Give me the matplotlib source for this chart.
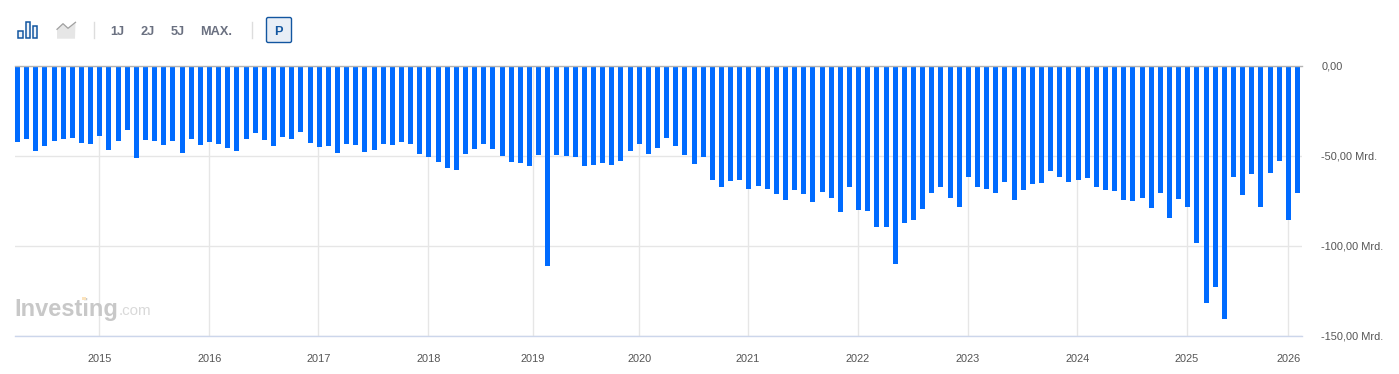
import matplotlib
matplotlib.use("Agg")
import matplotlib.pyplot as plt
from matplotlib.patches import Rectangle, Polygon, FancyBboxPatch
from matplotlib.lines import Line2D
from matplotlib.transforms import ScaledTranslation

W, H = 1399, 374
plt.rcParams['font.family'] = ['Liberation Sans', 'DejaVu Sans']

values = [
    -41.9, -40.2, -46.9, -44.1, -41.3, -40.2, -39.6, -42.4, -43.0, -38.5, -46.3, -41.3,
    -35.2, -50.7, -40.7, -41.3, -43.5, -41.3, -48.0, -40.2, -43.5, -41.9, -43.0, -45.2,
    -46.9, -40.2, -36.9, -40.7, -44.1, -39.1, -40.2, -36.4, -42.6, -44.8, -44.3, -48.1,
    -43.1, -43.7, -47.6, -46.5, -43.1, -43.7, -42.0, -43.1, -48.7, -50.4, -53.1, -56.5,
    -57.6, -48.7, -45.9, -43.1, -45.9, -49.8, -53.1, -53.7, -55.4, -49.3, -110.9, -49.3,
    -49.8, -50.4, -55.4, -54.8, -53.7, -54.8, -52.6, -47.0, -43.1, -48.7, -45.4, -39.8,
    -44.3, -49.3, -54.3, -50.4, -63.1, -67.0, -63.7, -63.1, -68.1, -66.5, -68.1, -70.9,
    -74.3, -68.7, -70.9, -75.4, -69.8, -73.1, -80.9, -67.0, -79.8, -80.4, -89.3, -89.3,
    -109.8, -87.0, -85.4, -79.3, -70.4, -67.0, -73.1, -78.1, -61.5, -67.0, -68.1, -70.4,
    -64.3, -74.3, -68.7, -65.4, -64.8, -58.1, -61.5, -64.3, -63.1, -62.0, -67.0, -68.7,
    -69.3, -74.3, -74.8, -73.1, -78.7, -70.4, -84.3, -73.7, -78.1, -98.1, -131.5, -122.6,
    -140.4, -61.5, -71.5, -59.8, -78.0, -59.3, -52.6, -85.6, -70.4,
]
year_labels = ['2015', '2016', '2017', '2018', '2019', '2020', '2021', '2022', '2023', '2024', '2025', '2026']
year_positions = [8.95, 20.97, 32.92, 44.95, 56.4, 68.0, 79.9, 91.9, 103.96, 115.9, 127.9, 139.0]
y_ticks = [0, -50, -100, -150]
y_labels = ['0,00', '-50,00 Mrd.', '-100,00 Mrd.', '-150,00 Mrd.']
range_buttons = ['1J', '2J', '5J', 'MAX.']

fig = plt.figure(figsize=(W / 100, H / 100), dpi=100, facecolor='white')
L, R, T, B = 15, 1302, 66.3, 336.3
ax = fig.add_axes([L / W, 1 - B / H, (R - L) / W, (B - T) / H])
step = (1297.5 - 17.5) / 140
ax.set_xlim((L - 17.5) / step, (R - 17.5) / step)
ax.set_ylim(-150, 0)
for s in ('top', 'left', 'right'):
    ax.spines[s].set_visible(False)
ax.spines['bottom'].set_color('#ccd6eb')
ax.spines['bottom'].set_linewidth(1)
ax.set_axisbelow(True)
ax.grid(True, color='#e6e6e6', linewidth=1)
ax.bar(range(len(values)), values, width=5.0 / step, color='#006BFF', linewidth=0, zorder=3)
ax.axhline(0, color='#b4b4b4', linewidth=1, zorder=4, clip_on=False)
ax.set_xticks(year_positions, year_labels)
ax.set_yticks(y_ticks, y_labels)
ax.yaxis.tick_right()
ax.tick_params(axis='x', length=0, pad=13, labelsize=7.9, labelcolor='#555555')
ax.tick_params(axis='y', length=0, pad=14, labelsize=7.9, labelcolor='#555555')
shift_up = ScaledTranslation(0, 0.72 / 72, fig.dpi_scale_trans)
for lab in ax.get_yticklabels():
    lab.set_ha('left')
    lab.set_transform(lab.get_transform() + shift_up)


def px(x, y):
    return x / W, 1 - y / H


def add_rect(x, y, w, h, **kw):
    fig.add_artist(Rectangle(px(x, y + h), w / W, h / H, transform=fig.transFigure, **kw))


def ftext(x, y, s, **kw):
    fig.text(*px(x, y), s, va='center', **kw)


# toolbar
blue = '#1256A0'
for x, y, h in [(18, 30.5, 7.5), (25.5, 22.5, 15.5), (32.5, 26.5, 11.5)]:
    add_rect(x, y, 4.5, h, facecolor='#eef3f9', edgecolor=blue, linewidth=1.1)
gray_pts = [px(57, 29.3), px(63, 23.7), px(68, 28.3), px(75.5, 22.3)]
fig.add_artist(Polygon(gray_pts + [px(75, 38.7), px(57, 38.7)],
                       closed=True, transform=fig.transFigure, facecolor='#e6e6e6', edgecolor='none'))
fig.add_artist(Line2D(*zip(*gray_pts), transform=fig.transFigure, color='#a0a0a0', linewidth=0.9))
for x in (93.5, 251.5):
    fig.add_artist(Line2D(*zip(px(x, 22), px(x, 38)), transform=fig.transFigure, color='#dddddd', linewidth=1))
for x, s in zip((117.5, 147.5, 177.5, 216.5), range_buttons):
    ftext(x, 31.7, s, ha='center', fontsize=9.2, fontweight='bold', color='#6a7080')
fig.add_artist(FancyBboxPatch(px(266.5, 42.5), 25 / W, 25 / H, boxstyle='round,pad=0,rounding_size=0.0012',
                              transform=fig.transFigure, facecolor='#e8eef6', edgecolor=blue, linewidth=1,
                              mutation_aspect=W / H))
ftext(278.5, 31.7, 'P', ha='center', fontsize=9.2, fontweight='bold', color=blue)

# watermark
ftext(14, 309.5, 'Investing', ha='left', fontsize=17, fontweight='bold', color='#c8c8c8', zorder=5)
ftext(118.5, 311, '.com', ha='left', fontsize=10.9, color='#d9d9d9', zorder=5)
add_rect(82, 297, 4, 3, facecolor='#fbe3bd', edgecolor='none', zorder=6)

fig.savefig('out.png', dpi=100, facecolor='white')
